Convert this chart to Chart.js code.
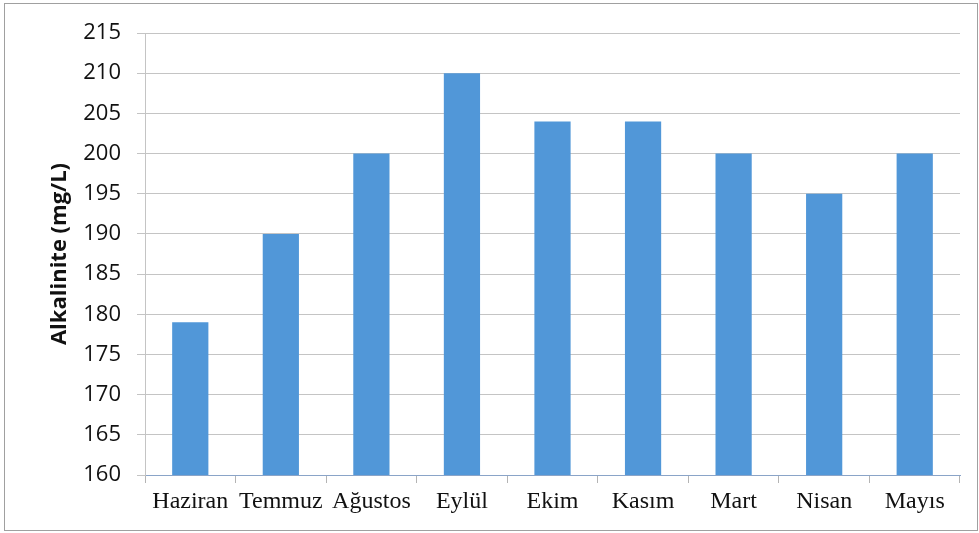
<!DOCTYPE html>
<html>
<head>
<meta charset="utf-8">
<script src="https://cdn.jsdelivr.net/npm/chart.js@4/dist/chart.umd.min.js"></script>
<style>
  html, body { margin: 0; padding: 0; background: #fff; }
  #frame { position: absolute; left: 4px; top: 3px; width: 972px; height: 526px; border: 1px solid #a0a0a0; }
  #wrap { position: absolute; left: 0; top: 0; width: 979px; height: 533px; }
</style>
</head>
<body>
<div id="frame"></div>
<div id="wrap"><canvas id="graf"></canvas></div>
<script>
// Aylar ve alkalinite değerleri
const months = ["Haziran", "Temmuz", "Ağustos", "Eylül", "Ekim", "Kasım", "Mart", "Nisan", "Mayıs"];
const alkalinity = [179, 190, 200, 210, 204, 204, 200, 195, 200];
const yMin = 160, yMax = 215, yStep = 5;

document.addEventListener("DOMContentLoaded", () => {
  new Chart(document.getElementById("graf"), {
    type: "bar",
    data: {
      labels: months,
      datasets: [{
        data: alkalinity,
        backgroundColor: "#5197d8",
        categoryPercentage: 0.8,
        barPercentage: 0.5
      }]
    },
    options: {
      responsive: true,
      maintainAspectRatio: false,
      animation: false,
      layout: { padding: { left: 0, right: 19, top: 33, bottom: 0 } },
      plugins: { legend: { display: false }, tooltip: { enabled: false } },
      scales: {
        x: {
          grid: { offset: true, drawOnChartArea: false, drawTicks: true, tickLength: 8, color: "#b4b4b4" },
          border: { color: "#8aa4c8" },
          ticks: { color: "#111", padding: 4, font: { family: "Liberation Serif", size: 24 } },
          afterFit: s => { s.height = 58; }
        },
        y: {
          min: yMin, max: yMax,
          grid: { color: "#c4c4c4", tickLength: 8 },
          border: { color: "#c4c4c4" },
          ticks: { stepSize: yStep, color: "#111", padding: 16, font: { family: "Open Sans", size: 22 } },
          title: { display: true, text: "Alkalinite (mg/L)", color: "#111", padding: { top: 47, bottom: 4 },
                   font: { family: "Open Sans", size: 22, weight: "bold" } },
          afterFit: s => { s.width = 145; }
        }
      }
    }
  });
});
</script>
</body>
</html>
